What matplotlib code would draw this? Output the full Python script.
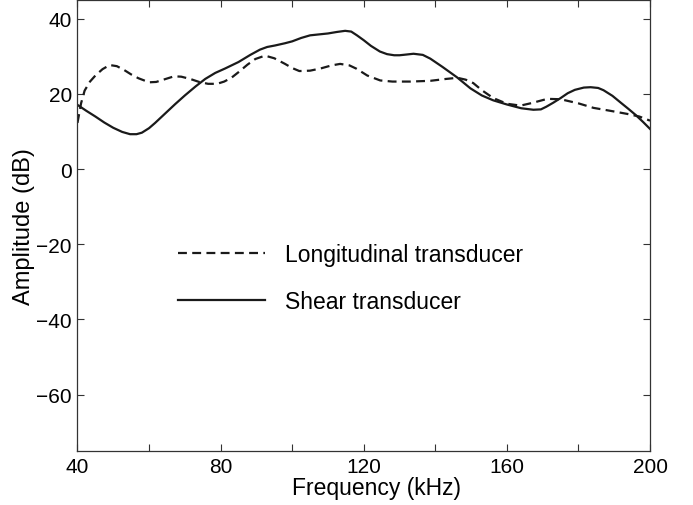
import numpy as np
import matplotlib.pyplot as plt
from matplotlib.ticker import MultipleLocator

plt.rcParams['font.family'] = ['Liberation Sans', 'DejaVu Sans']

# Longitudinal transducer (dashed)
long_f = [40, 41, 42, 43.5, 45, 47, 49, 51, 53, 55, 57, 60, 62, 64, 67, 69,
          71.5, 74, 76.5, 79, 81, 83, 85, 87.5, 89.7, 92.4, 95, 98, 100,
          102, 105, 108, 111, 113.4, 116, 118, 121, 124.6, 128, 133, 138.6,
          143, 146.2, 148.5, 150.6, 153, 156.2, 160, 163.8, 167, 171.3, 175,
          180, 184.2, 189, 193.6, 197, 200]
long_db = [12.3, 17.5, 20.9, 23.3, 24.9, 26.6, 27.7, 27.4, 26.4, 25.2, 24.2,
           23.1, 23.2, 23.8, 24.7, 24.6, 24.0, 23.2, 22.7, 22.7, 23.3, 24.3,
           25.8, 27.8, 29.3, 30.2, 29.5, 28.0, 26.9, 26.1, 26.2, 26.8, 27.6,
           28.0, 27.6, 26.7, 24.9, 23.6, 23.3, 23.3, 23.5, 24.0, 24.3, 23.8,
           22.9, 21.0, 18.9, 17.4, 16.9, 17.6, 18.7, 18.6, 17.5, 16.3, 15.5,
           14.7, 14.0, 12.9]

# Shear transducer (solid)
shear_f = [40, 42.5, 45, 47.5, 50, 52.5, 54.7, 56.5, 58, 60, 61.7, 64.5,
           67.3, 70, 73, 75.7, 78.5, 81.3, 85, 88.3, 91, 93, 95.2, 98, 100,
           102.5, 105, 108, 110, 112.5, 114.8, 116.5, 118.1, 120, 122,
           124.5, 126.5, 128.5, 130, 132, 133.9, 136.5, 138.6, 142, 146.1,
           149.8, 153, 156.2, 160, 164, 167.4, 169.5, 171, 173, 175, 177,
           179, 181.5, 183.4, 185.5, 187, 189.5, 191.8, 194, 196, 198, 200]
shear_db = [17.1, 15.5, 14.0, 12.4, 11.0, 9.9, 9.3, 9.3, 9.7, 10.9, 12.3,
            14.8, 17.3, 19.6, 22.0, 24.0, 25.6, 26.8, 28.5, 30.4, 31.8,
            32.5, 32.9, 33.5, 34.0, 34.9, 35.6, 35.9, 36.1, 36.5, 36.8, 36.6,
            35.6, 34.3, 32.8, 31.3, 30.6, 30.3, 30.3, 30.5, 30.7, 30.4, 29.4,
            27.2, 24.4, 21.5, 19.6, 18.3, 17.2, 16.2, 15.8, 15.9, 16.6, 17.7,
            18.9, 20.2, 21.1, 21.7, 21.8, 21.6, 21.0, 19.5, 17.7, 16.0,
            14.4, 12.6, 10.7]

fig = plt.figure(figsize=(6.93, 5.06), dpi=100)
ax = fig.add_axes([0.1118, 0.1067, 0.8262, 0.8913])

ax.plot(long_f, long_db, color='#1a1a1a', linewidth=1.6, dashes=(4, 2.4),
        label='Longitudinal transducer')
ax.plot(shear_f, shear_db, color='#1a1a1a', linewidth=1.6,
        label='Shear transducer')

ax.set_xlim(40, 200)
ax.set_ylim(-75, 45)
ax.xaxis.set_major_locator(MultipleLocator(40))
ax.xaxis.set_minor_locator(MultipleLocator(20))
ax.set_yticks([-60, -40, -20, 0, 20, 40])
ax.tick_params(which='both', direction='in', top=True, right=True,
               length=5, width=0.8, labelsize=15, pad=4, color='#333333')

for s in ax.spines.values():
    s.set_linewidth(0.9)
    s.set_color('#333333')

ax.set_xlabel('Frequency (kHz)', fontsize=16.5, labelpad=0)
ax.xaxis.set_label_coords(0.522, -0.055)
ax.set_ylabel('Amplitude (dB)', fontsize=17, labelpad=1)

ax.legend(loc='upper left', bbox_to_anchor=(0.1755, 0.461), frameon=False,
          fontsize=16.5, handlelength=3.8, handletextpad=0.88,
          labelspacing=1.05, borderpad=0, borderaxespad=0)

fig.savefig('out.png', dpi=100)
